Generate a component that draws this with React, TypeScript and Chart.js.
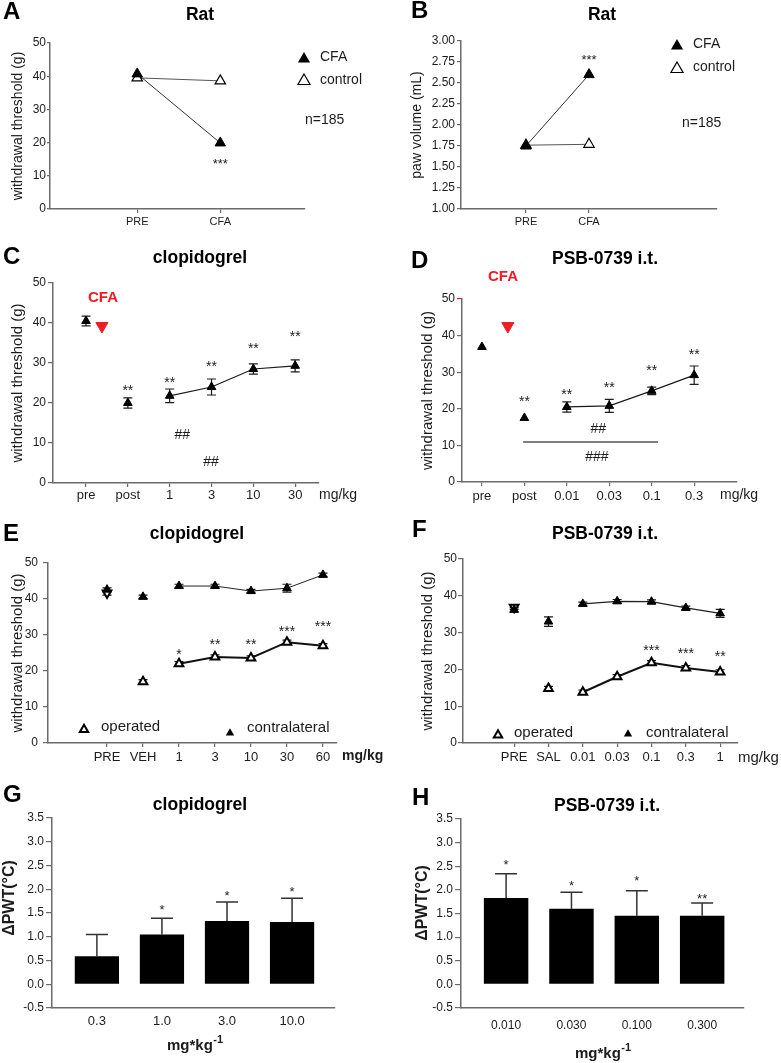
import React, { useEffect, useRef } from 'react';
import { Chart, registerables } from 'chart.js';

Chart.register(...registerables);

// ================= DATA =================
// Panel A (Rat, withdrawal threshold)
const ratCategories = ['PRE', 'CFA'];
const aCFA = [40.7, 19.9];
const aControl = [39.5, 38.6];
// Panel B (Rat, paw volume)
const bCFA = [1.75, 2.6];
const bControl = [1.76, 1.77];
// Panel C (clopidogrel)
const cCategories = ['pre', 'post', '1', '3', '10', '30'];
const cValues = [40.5, 20.0, 21.8, 24.0, 28.5, 29.3];
const cErrors = [1.2, 1.3, 1.7, 2.0, 1.3, 1.5];
const cStars = ['', '**', '**', '**', '**', '**'];
// Panel D (PSB-0739 i.t.)
const dCategories = ['pre', 'post', '0.01', '0.03', '0.1', '0.3'];
const dValues = [36.9, 17.5, 20.5, 20.8, 24.9, 29.2];
const dErrors = [0, 0, 1.4, 1.8, 1.0, 2.5];
const dStars = ['', '**', '**', '**', '**', '**'];
// Panel E (clopidogrel, operated vs contralateral)
const eCategories = ['PRE', 'VEH', '1', '3', '10', '30', '60'];
const eOperated = [41.7, 17.0, 22.0, 23.9, 23.6, 28.0, 27.0];
const eOperatedErr = [0.6, 0.6, 0.6, 0.6, 0.6, 0.6, 0.6];
const eContra = [42.6, 40.6, 43.6, 43.6, 42.2, 43.0, 46.7];
const eContraErr = [0.5, 0.5, 0.5, 0.5, 0.5, 1.1, 0.5];
const eStars = ['', '', '*', '**', '**', '***', '***'];
// Panel F (PSB-0739 i.t., operated vs contralateral)
const fCategories = ['PRE', 'SAL', '0.01', '0.03', '0.1', '0.3', '1'];
const fOperated = [36.9, 14.8, 13.8, 18.0, 21.8, 20.4, 19.3];
const fOperatedErr = [0.6, 0.6, 0.6, 0.6, 0.6, 0.6, 0.6];
const fContra = [36.2, 33.0, 37.8, 38.5, 38.4, 36.7, 35.2];
const fContraErr = [0.6, 1.3, 0.5, 0.5, 0.5, 0.5, 1.1];
const fStars = ['', '', '', '', '***', '***', '**'];
// Panel G (clopidogrel, ΔPWT)
const gCategories = ['0.3', '1.0', '3.0', '10.0'];
const gValues = [0.59, 1.05, 1.33, 1.31];
const gErrors = [0.46, 0.34, 0.4, 0.5];
const gStars = ['', '*', '*', '*'];
// Panel H (PSB-0739 i.t., ΔPWT)
const hCategories = ['0.010', '0.030', '0.100', '0.300'];
const hValues = [1.83, 1.6, 1.45, 1.45];
const hErrors = [0.51, 0.35, 0.53, 0.27];
const hStars = ['*', '*', '*', '**'];

// ================= STYLE =================
const FONT = '"Liberation Sans", Arial, Helvetica, sans-serif';
const AXIS = '#6b6b6b';
const INK = '#1c1c1c';
const RED = '#ee1c25';

type Geo = { cx: number; cy: number; cw: number; ch: number; l: number; t: number; r: number; b: number };

const geoA: Geo = { cx: 0, cy: 0, cw: 390, ch: 235, l: 50, t: 43, r: 305, b: 209 };
const geoB: Geo = { cx: 390, cy: 0, cw: 391, ch: 235, l: 461, t: 41, r: 717, b: 209 };
const geoC: Geo = { cx: 0, cy: 235, cw: 390, ch: 275, l: 53, t: 283, r: 319, b: 483 };
const geoD: Geo = { cx: 390, cy: 235, cw: 391, ch: 275, l: 462, t: 299, r: 737, b: 482 };
const geoE: Geo = { cx: 0, cy: 510, cw: 390, ch: 265, l: 48, t: 563, r: 337, b: 743 };
const geoF: Geo = { cx: 390, cy: 510, cw: 391, ch: 265, l: 463, t: 559, r: 738, b: 743 };
const geoG: Geo = { cx: 0, cy: 775, cw: 390, ch: 288, l: 52, t: 818, r: 335, b: 1008 };
const geoH: Geo = { cx: 390, cy: 775, cw: 391, ch: 288, l: 461, t: 819, r: 744, b: 1008 };

const pts = (arr: number[]) => arr.map((y, i) => ({ x: i, y }));

// ================= PLUGINS =================
const errorBars = {
  id: 'errorBars',
  beforeDatasetsDraw(chart: any) {
    const ctx = chart.ctx;
    chart.data.datasets.forEach((ds: any, di: number) => {
      if (!ds.errors) return;
      const meta = chart.getDatasetMeta(di);
      const ys = chart.scales[meta.yAxisID];
      ctx.save();
      ctx.strokeStyle = ds.errorColor || INK;
      ctx.lineWidth = ds.errorWidth || 1.2;
      meta.data.forEach((el: any, i: number) => {
        const e = ds.errors[i];
        if (!e) return;
        const v = ds.data[i].y;
        const x = el.x;
        const yTop = ys.getPixelForValue(v + e);
        const yBot = ds.errorUpOnly ? ys.getPixelForValue(v) : ys.getPixelForValue(v - e);
        const hw = ds.capHalf || 4;
        ctx.beginPath();
        ctx.moveTo(x, yTop);
        ctx.lineTo(x, yBot);
        ctx.moveTo(x - hw, yTop);
        ctx.lineTo(x + hw, yTop);
        if (!ds.errorUpOnly) {
          ctx.moveTo(x - hw, yBot);
          ctx.lineTo(x + hw, yBot);
        }
        ctx.stroke();
      });
      ctx.restore();
    });
  },
};
Chart.register(errorBars);

type Note = {
  kind: 'text' | 'tri' | 'hline';
  text?: string;
  sup?: string;
  x: number;
  y: number;
  x2?: number;
  data?: boolean;
  size?: number;
  bold?: boolean;
  color?: string;
  align?: string;
  rotate?: boolean;
  r?: number;
  filled?: boolean;
  lw?: number;
};

function notesPlugin(geo: Geo, notes: Note[]) {
  return {
    id: 'notes',
    afterDraw(chart: any) {
      const ctx = chart.ctx;
      const xs = chart.scales.x;
      const ys = chart.scales.y;
      const px = (n: Note, v: number) => (n.data ? xs.getPixelForValue(v) : v - geo.cx);
      const py = (n: Note, v: number) => (n.data ? ys.getPixelForValue(v) : v - geo.cy);
      ctx.save();
      for (const n of notes) {
        const x = px(n, n.x);
        const y = py(n, n.y);
        if (n.kind === 'text') {
          const size = n.size ?? 13;
          const w = n.bold ? 'bold ' : '';
          ctx.font = `${w}${size}px ${FONT}`;
          ctx.fillStyle = n.color ?? INK;
          ctx.textAlign = n.align ?? 'center';
          ctx.textBaseline = 'middle';
          if (n.rotate) {
            ctx.save();
            ctx.translate(x, y);
            ctx.rotate(-Math.PI / 2);
            ctx.fillText(n.text, 0, 0);
            ctx.restore();
          } else {
            const shift = /^\*+$/.test(n.text || '') ? size * 0.24 : 0;
            ctx.fillText(n.text, x, y + shift);
            if (n.sup) {
              const tw = ctx.measureText(n.text).width;
              const sx = (n.align ?? 'center') === 'left' ? x + tw : x + tw / 2;
              ctx.font = `${w}${Math.round(size * 0.7)}px ${FONT}`;
              ctx.textAlign = 'left';
              ctx.fillText(n.sup, sx + 0.5, y - size * 0.42);
            }
          }
        } else if (n.kind === 'tri') {
          const r = n.r ?? 6;
          ctx.beginPath();
          for (let k = 0; k < 3; k++) {
            const a = (k * 2 * Math.PI) / 3;
            const vx = x + Math.sin(a) * r;
            const vy = y - Math.cos(a) * r;
            if (k === 0) ctx.moveTo(vx, vy);
            else ctx.lineTo(vx, vy);
          }
          ctx.closePath();
          if (n.filled) {
            ctx.fillStyle = '#000';
            ctx.fill();
          } else {
            ctx.fillStyle = '#fff';
            ctx.fill();
            ctx.lineWidth = n.lw ?? 1.2;
            ctx.strokeStyle = '#000';
            ctx.stroke();
          }
        } else if (n.kind === 'hline') {
          const x2 = px(n, n.x2 as number);
          ctx.beginPath();
          ctx.moveTo(x, y);
          ctx.lineTo(x2, y);
          ctx.lineWidth = n.lw ?? 1.5;
          ctx.strokeStyle = n.color ?? '#555';
          ctx.stroke();
        }
      }
      ctx.restore();
    },
  };
}

const letter = (t: string, x: number, y: number): Note => ({ kind: 'text', text: t, x, y, size: 24, bold: true, align: 'left', color: '#000' });
const title = (t: string, x: number, y: number): Note => ({ kind: 'text', text: t, x, y, size: 17.5, bold: true, color: '#000' });
const label = (t: string, x: number, y: number, size = 14, bold = false): Note => ({ kind: 'text', text: t, x, y, size, bold, align: 'left' });
const starNotes = (labels: string[], levels: number[], size = 14): Note[] =>
  labels
    .map((t, i) => (t ? ({ kind: 'text', text: t, x: i, y: levels[i], data: true, size } as Note) : null))
    .filter(Boolean) as Note[];

// ================= AXES =================
function xAxis(geo: Geo, labels: string[], min: number, max: number, fs: number, tl: number, pad: number, ticksOn = true) {
  return {
    type: 'linear',
    min,
    max,
    offset: false,
    afterBuildTicks: (s: any) => {
      s.ticks = labels.map((_, i) => ({ value: i }));
    },
    afterFit: (s: any) => {
      s.height = geo.cy + geo.ch - geo.b;
    },
    ticks: {
      autoSkip: false,
      maxRotation: 0,
      font: { family: FONT, size: fs },
      color: INK,
      padding: pad,
      callback: (v: number) => labels[Math.round(v)] ?? '',
    },
    grid: { display: true, drawOnChartArea: false, drawTicks: ticksOn, tickLength: tl, color: AXIS, lineWidth: 1.2, offset: false },
    border: { display: true, color: AXIS, width: 1.5 },
  };
}

function yAxis(
  geo: Geo,
  min: number,
  max: number,
  step: number,
  tl: number,
  pad: number,
  digits: number,
  ttl?: { text: string; size: number; pad: number },
  tickColor?: any,
) {
  return {
    type: 'linear',
    min,
    max,
    afterFit: (s: any) => {
      s.width = geo.l - geo.cx;
    },
    ticks: {
      stepSize: step,
      font: { family: FONT, size: 12 },
      color: INK,
      padding: pad,
      callback: (v: number) => Number(v).toFixed(digits),
    },
    grid: { drawOnChartArea: false, drawTicks: true, tickLength: tl, color: tickColor ?? AXIS, lineWidth: 1.2 },
    border: { display: true, color: AXIS, width: 1.5 },
    title: ttl
      ? { display: true, text: ttl.text, font: { family: FONT, size: ttl.size }, color: INK, padding: { top: ttl.pad, bottom: 0 } }
      : { display: false },
  };
}

function baseOptions(geo: Geo, x: any, y: any) {
  return {
    responsive: false,
    animation: false,
    devicePixelRatio: 1,
    events: [],
    layout: { padding: { left: 0, top: geo.t - geo.cy, right: geo.cx + geo.cw - geo.r, bottom: 0 } },
    plugins: { legend: { display: false }, tooltip: { enabled: false }, title: { display: false } },
    scales: { x, y },
  };
}

const triSet = (data: number[], filled: boolean, extra: any = {}) => ({
  data: pts(data),
  pointStyle: 'triangle',
  pointRadius: 5,
  pointBackgroundColor: filled ? '#000' : '#fff',
  pointBorderColor: '#000',
  pointBorderWidth: filled ? 1 : 2,
  borderColor: '#1a1a1a',
  borderWidth: 1.2,
  ...extra,
});

const fromIndex = (start: number, color: string) => ({
  borderColor: (c: any) => (c.p0DataIndex < start ? 'rgba(0,0,0,0)' : color),
});

// ================= PANELS =================
function buildA() {
  return {
    type: 'line',
    data: {
      datasets: [
        triSet(aCFA, true, { label: 'CFA', pointRadius: 6, borderColor: '#333', borderWidth: 1 }),
        triSet(aControl, false, { label: 'control', pointRadius: 6, pointBorderWidth: 1.2, borderColor: '#555', borderWidth: 1 }),
      ],
    },
    options: baseOptions(
      geoA,
      xAxis(geoA, ratCategories, -1.05, 2.02, 11, 4, 2),
      yAxis(geoA, 0, 50, 10, 3, 1, 0, { text: 'withdrawal threshold (g)', size: 14, pad: 9.6 }),
    ),
    plugins: [
      notesPlugin(geoA, [
        letter('A', 3, 12),
        title('Rat', 200, 15),
        { kind: 'tri', x: 304, y: 59, r: 7, filled: true },
        label('CFA', 320, 57),
        { kind: 'tri', x: 304, y: 81, r: 7, filled: false, lw: 1.2 },
        label('control', 320, 80),
        label('n=185', 305, 120),
        { kind: 'text', text: '***', x: 1, y: 14.5, data: true, size: 13 },
      ]),
    ],
  };
}

function buildB() {
  return {
    type: 'line',
    data: {
      datasets: [
        triSet(bCFA, true, { label: 'CFA', pointRadius: 6, borderColor: '#333', borderWidth: 1 }),
        triSet(bControl, false, { label: 'control', pointRadius: 6, pointBorderWidth: 1.2, borderColor: '#555', borderWidth: 1 }),
      ],
    },
    options: baseOptions(
      geoB,
      xAxis(geoB, ratCategories, -1.03, 3.03, 11, 4, 2),
      yAxis(geoB, 1, 3, 0.25, 4, 2, 2, { text: 'paw volume (mL)', size: 14, pad: 19 }),
    ),
    plugins: [
      notesPlugin(geoB, [
        letter('B', 411, 11),
        title('Rat', 602, 15),
        { kind: 'tri', x: 677, y: 46, r: 7, filled: true },
        label('CFA', 693, 44),
        { kind: 'tri', x: 677, y: 69, r: 7, filled: false, lw: 1.2 },
        label('control', 693, 67),
        label('n=185', 682, 123),
        { kind: 'text', text: '***', x: 1, y: 2.81, data: true, size: 13 },
      ]),
    ],
  };
}

function buildC() {
  return {
    type: 'line',
    data: {
      datasets: [
        triSet(cValues, true, { label: 'clopidogrel', errors: cErrors, capHalf: 4.5, segment: fromIndex(2, '#1a1a1a') }),
        {
          label: 'CFA',
          data: [{ x: 0.38, y: 39.25 }],
          showLine: false,
          pointStyle: 'triangle',
          pointRotation: 180,
          pointRadius: 7,
          pointBackgroundColor: RED,
          pointBorderColor: RED,
        },
      ],
    },
    options: baseOptions(
      geoC,
      xAxis(geoC, cCategories, -0.79, 5.57, 13, 4, 1),
      yAxis(geoC, 0, 50, 10, 5, 2, 0, { text: 'withdrawal threshold (g)', size: 15, pad: 9 }),
    ),
    plugins: [
      notesPlugin(geoC, [
        letter('C', 3, 257),
        title('clopidogrel', 200, 258),
        { kind: 'text', text: 'CFA', x: 103, y: 298, size: 15, bold: true, color: RED },
        label('mg/kg', 319, 495),
        ...starNotes(cStars, [0, 23.75, 25.75, 29.75, 34.25, 37.25]),
        { kind: 'text', text: '##', x: 2.3, y: 12, data: true, size: 14 },
        { kind: 'text', text: '##', x: 2.99, y: 5.25, data: true, size: 14 },
      ]),
    ],
  };
}

function buildD() {
  return {
    type: 'line',
    data: {
      datasets: [
        triSet(dValues, true, { label: 'PSB-0739', errors: dErrors, capHalf: 4.5, segment: fromIndex(2, '#1a1a1a') }),
        {
          label: 'CFA',
          data: [{ x: 0.61, y: 42.6 }],
          showLine: false,
          pointStyle: 'triangle',
          pointRotation: 180,
          pointRadius: 7,
          pointBackgroundColor: RED,
          pointBorderColor: RED,
        },
      ],
    },
    options: baseOptions(
      geoD,
      xAxis(geoD, dCategories, -0.47, 6.01, 13, 4, 3),
      yAxis(geoD, 0, 50, 10, 5, 2, 0, { text: 'withdrawal threshold (g)', size: 15, pad: 28.5 }, (c: any) =>
        c.tick && c.tick.value === 50 ? RED : AXIS,
      ),
    ),
    plugins: [
      notesPlugin(geoD, [
        letter('D', 411, 261),
        title('PSB-0739 i.t.', 605, 259),
        { kind: 'text', text: 'CFA', x: 503, y: 277, size: 15, bold: true, color: RED },
        label('mg/kg', 720, 495),
        ...starNotes(dStars, [0, 22.7, 24.6, 26.5, 31.1, 35.5]),
        { kind: 'hline', x: 0.97, x2: 4.15, y: 10.9, data: true, color: '#555', lw: 1.5 },
        { kind: 'text', text: '##', x: 2.74, y: 14.5, data: true, size: 14 },
        { kind: 'text', text: '###', x: 2.71, y: 6.8, data: true, size: 14 },
      ]),
    ],
  };
}

function buildE() {
  return {
    type: 'line',
    data: {
      datasets: [
        triSet(eContra, true, { label: 'contralateral', errors: eContraErr, capHalf: 4.5, borderWidth: 1, segment: fromIndex(2, '#222') }),
        triSet(eOperated, false, {
          label: 'operated',
          errors: eOperatedErr,
          capHalf: 4.5,
          borderWidth: 2,
          pointRotation: (c: any) => (c.dataIndex === 0 ? 180 : 0),
          segment: fromIndex(2, '#111'),
        }),
      ],
    },
    options: baseOptions(
      geoE,
      xAxis(geoE, eCategories, -1.64, 6.39, 13, 4, 3),
      yAxis(geoE, 0, 50, 10, 5, 5, 0, { text: 'withdrawal threshold (g)', size: 15, pad: 9 }),
    ),
    plugins: [
      notesPlugin(geoE, [
        letter('E', 3, 534),
        title('clopidogrel', 197, 534),
        label('mg/kg', 342, 756, 14, true),
        ...starNotes(eStars, [0, 0, 25.3, 28.1, 28.1, 31.7, 33.1]),
        { kind: 'tri', x: 84, y: 729.5, r: 4.8, filled: false, lw: 2 },
        label('operated', 101, 727, 15),
        { kind: 'tri', x: 230, y: 733, r: 4.8, filled: true },
        label('contralateral', 247, 728, 15),
      ]),
    ],
  };
}

function buildF() {
  return {
    type: 'line',
    data: {
      datasets: [
        triSet(fContra, true, { label: 'contralateral', errors: fContraErr, capHalf: 4.5, borderWidth: 1.2, segment: fromIndex(2, '#222') }),
        triSet(fOperated, false, {
          label: 'operated',
          errors: fOperatedErr,
          capHalf: 4.5,
          borderWidth: 2,
          pointRotation: (c: any) => (c.dataIndex === 0 ? 180 : 0),
          segment: fromIndex(2, '#111'),
        }),
      ],
    },
    options: baseOptions(
      geoF,
      xAxis(geoF, fCategories, -1.49, 6.52, 13, 4, 3),
      yAxis(geoF, 0, 50, 10, 5, 1, 0, { text: 'withdrawal threshold (g)', size: 15, pad: 28.5 }),
    ),
    plugins: [
      notesPlugin(geoF, [
        letter('F', 412, 530),
        title('PSB-0739 i.t.', 605, 534),
        label('mg/kg', 738, 758, 15),
        ...starNotes(fStars, [0, 0, 0, 0, 25.8, 25.0, 24.2]),
        { kind: 'tri', x: 498, y: 735, r: 4.8, filled: false, lw: 2 },
        label('operated', 514, 733, 15),
        { kind: 'tri', x: 628, y: 734, r: 4.8, filled: true },
        label('contralateral', 646, 733, 15),
      ]),
    ],
  };
}

function barConfig(geo: Geo, cats: string[], values: number[], errors: number[], xmin: number, xmax: number, xfs: number, xpad: number, notes: Note[]) {
  return {
    type: 'bar',
    data: {
      datasets: [
        {
          label: 'ΔPWT',
          data: pts(values),
          backgroundColor: '#000',
          borderColor: '#000',
          borderWidth: 0,
          categoryPercentage: 1,
          barPercentage: 0.68,
          errors,
          errorUpOnly: true,
          capHalf: 11,
          errorColor: '#333',
          errorWidth: 1.5,
        },
      ],
    },
    options: baseOptions(geo, xAxis(geo, cats, xmin, xmax, xfs, 0, xpad, false), yAxis(geo, -0.5, 3.5, 0.5, 6, 2, 1)),
    plugins: [notesPlugin(geo, notes)],
  };
}

function buildG() {
  return barConfig(geoG, gCategories, gValues, gErrors, -0.69, 3.66, 13, 6, [
    letter('G', 3, 795),
    title('clopidogrel', 200, 805),
    { kind: 'text', text: 'ΔPWT(°C)', x: 10, y: 898, size: 16, bold: true, rotate: true },
    { kind: 'text', text: 'mg*kg', sup: '-1', x: 167, y: 1046, size: 15, bold: true, align: 'left' },
    ...starNotes(gStars, [0, 1.62, 1.92, 2.0], 13),
  ]);
}

function buildH() {
  return barConfig(geoH, hCategories, hValues, hErrors, -0.69, 3.64, 12, 10, [
    letter('H', 412, 798),
    title('PSB-0739 i.t.', 607, 806),
    { kind: 'text', text: 'ΔPWT(°C)', x: 423, y: 903, size: 16, bold: true, rotate: true },
    { kind: 'text', text: 'mg*kg', sup: '-1', x: 575, y: 1054, size: 15, bold: true, align: 'left' },
    ...starNotes(hStars, [2.58, 2.14, 2.25, 1.87], 13),
  ]);
}

// ================= COMPONENTS =================
function Panel({ geo, build }: { geo: Geo; build: () => any }) {
  const ref = useRef<HTMLCanvasElement>(null);
  useEffect(() => {
    const chart = new Chart(ref.current as HTMLCanvasElement, build());
    return () => chart.destroy();
  }, []);
  return (
    <canvas
      ref={ref}
      width={geo.cw}
      height={geo.ch}
      style={{ position: 'absolute', left: geo.cx, top: geo.cy, width: geo.cw, height: geo.ch, display: 'block' }}
    />
  );
}

export default function App() {
  return (
    <div style={{ position: 'absolute', left: 0, top: 0, width: 781, height: 1063, background: '#fff', overflow: 'hidden' }}>
      <Panel geo={geoA} build={buildA} />
      <Panel geo={geoB} build={buildB} />
      <Panel geo={geoC} build={buildC} />
      <Panel geo={geoD} build={buildD} />
      <Panel geo={geoE} build={buildE} />
      <Panel geo={geoF} build={buildF} />
      <Panel geo={geoG} build={buildG} />
      <Panel geo={geoH} build={buildH} />
    </div>
  );
}
